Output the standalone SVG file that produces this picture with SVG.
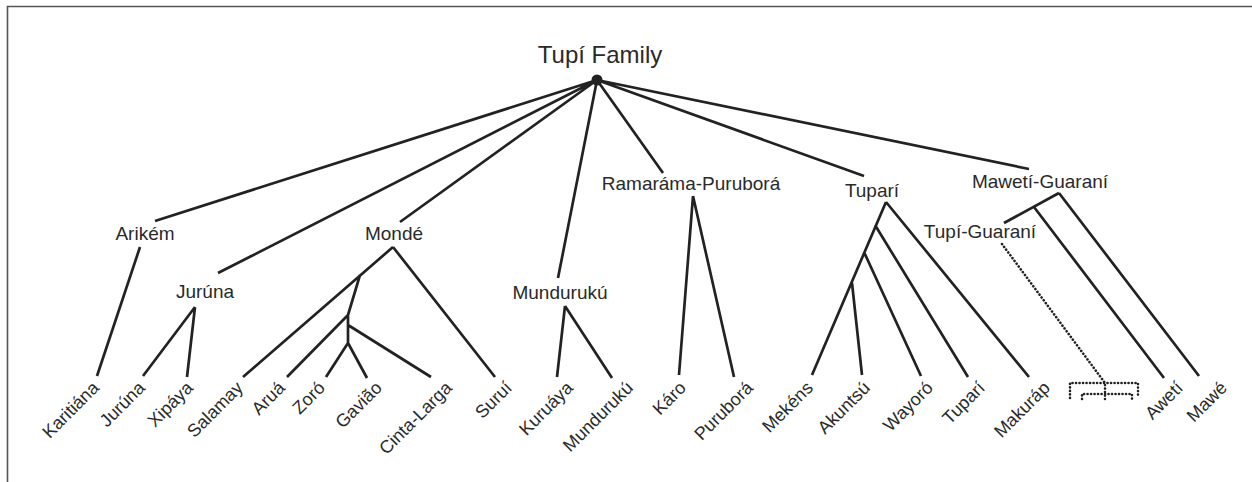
<svg xmlns="http://www.w3.org/2000/svg" width="1252" height="482" viewBox="0 0 1252 482">
<style>
text{font-family:"Liberation Sans",Arial,sans-serif;fill:#2a2a2a}
.t{font-size:24px;text-anchor:middle}
.n{font-size:19px;text-anchor:middle}
.l{font-size:18px;text-anchor:end}
.e{stroke:#222;stroke-width:2.7;fill:none;stroke-linecap:butt}
.d{stroke:#222;stroke-width:2.6;fill:none;stroke-dasharray:0.1 3.4;stroke-linecap:round}
</style>
<rect width="1252" height="482" fill="#fff"/>
<path d="M7.5,482 V6.5 H1252" fill="none" stroke="#555" stroke-width="1.6"/>

<g id="connectors">
<path class="e" d="M597,80 L155,221 M597,80 L218,273 M597,80 L400,222 M597,80 L558,278 M597,80 L663,173 M597,80 L864,176 M597,80 L1029,169"/>
<path class="e" d="M140,247 L97,376"/>
<path class="e" d="M195,307 L143,376 M195,307 L187,377"/>
<path class="e" d="M393,247 L243,377 M360,275 L348,315 M348,315 L287,377 M348,315 L348,343 M348,325 L431,377 M348,343 L326,377 M348,343 L367,378 M393,247 L495,377"/>
<path class="e" d="M565,306 L557,377 M565,306 L612,378"/>
<path class="e" d="M693,196 L679,375 M693,196 L734,377"/>
<path class="e" d="M886,202 L812,375 M875,225 L968,377 M864,252 L921,376 M852,283 L862,375 M886,202 L1029,377"/>
<path class="e" d="M1059,193 L1004,223 M1034,207 L1164,378 M1059,193 L1199,376"/>
<path class="d" d="M1002,244 L1105,383 V399"/>
<path class="d" d="M1070,398 V383 H1138 V398 M1082,399 V394 H1132 V399"/>
</g>

<g id="root"><circle cx="597" cy="80" r="5.5" fill="#222"/><text class="t" x="600" y="63">Tupí Family</text></g>
<g id="arikem"><text class="n" x="145" y="240">Arikém</text></g>
<g id="jurunaG"><text class="n" x="205" y="298">Jurúna</text></g>
<g id="monde"><text class="n" x="394" y="240">Mondé</text></g>
<g id="mundurukuG"><text class="n" x="560" y="299">Mundurukú</text></g>
<g id="ramarama"><text class="n" x="691" y="190">Ramaráma-Puruborá</text></g>
<g id="tupariG"><text class="n" x="872" y="197">Tuparí</text></g>
<g id="maweti"><text class="n" x="1040" y="188">Mawetí-Guaraní</text></g>
<g id="tupiguarani"><text class="n" x="980" y="238">Tupí-Guaraní</text></g>

<g id="karitiana"><text class="l" transform="translate(100,389) rotate(-45)">Karitiána</text></g>
<g id="juruna"><text class="l" transform="translate(146,389) rotate(-45)">Jurúna</text></g>
<g id="xipaya"><text class="l" transform="translate(194,389) rotate(-45)">Xipáya</text></g>
<g id="salamay"><text class="l" transform="translate(244,389) rotate(-45)">Salamay</text></g>
<g id="arua"><text class="l" transform="translate(286,389) rotate(-45)">Aruá</text></g>
<g id="zoro"><text class="l" transform="translate(326,389) rotate(-45)">Zoró</text></g>
<g id="gaviao"><text class="l" transform="translate(383,389) rotate(-45)">Gavião</text></g>
<g id="cintalarga"><text class="l" transform="translate(453,389) rotate(-45)">Cinta-Larga</text></g>
<g id="surui"><text class="l" transform="translate(513,389) rotate(-45)">Suruí</text></g>
<g id="kuruaya"><text class="l" transform="translate(574,389) rotate(-45)">Kuruáya</text></g>
<g id="munduruku"><text class="l" transform="translate(634,389) rotate(-45)">Mundurukú</text></g>
<g id="karo"><text class="l" transform="translate(687,389) rotate(-45)">Káro</text></g>
<g id="purubora"><text class="l" transform="translate(754,389) rotate(-45)">Puruborá</text></g>
<g id="mekens"><text class="l" transform="translate(814,389) rotate(-45)">Mekéns</text></g>
<g id="akuntsu"><text class="l" transform="translate(871,389) rotate(-45)">Akuntsú</text></g>
<g id="wayoro"><text class="l" transform="translate(934,389) rotate(-45)">Wayoró</text></g>
<g id="tupari"><text class="l" transform="translate(986,389) rotate(-45)">Tuparí</text></g>
<g id="makurap"><text class="l" transform="translate(1051,389) rotate(-45)">Makuráp</text></g>
<g id="aweti"><text class="l" transform="translate(1184,389) rotate(-45)">Awetí</text></g>
<g id="mawe"><text class="l" transform="translate(1228,389) rotate(-45)">Mawé</text></g>
</svg>
